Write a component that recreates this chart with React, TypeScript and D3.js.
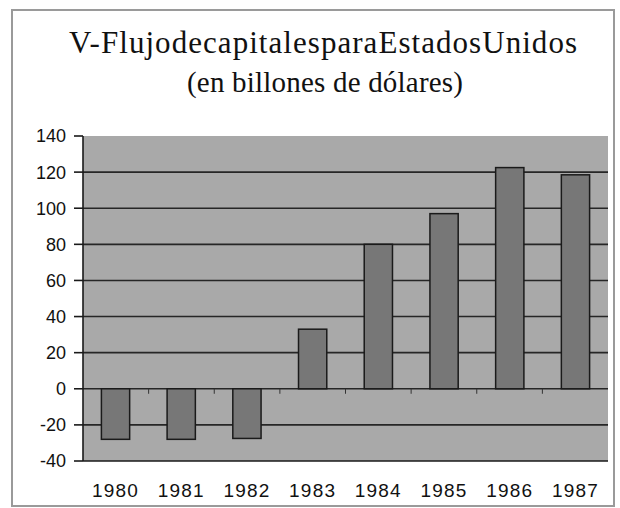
import React from "react";
import * as d3 from "d3";

const years = ["1980", "1981", "1982", "1983", "1984", "1985", "1986", "1987"];
const flows = [-28, -28, -27.5, 33, 80, 97, 122.5, 118.5];
const yTicks = [-40, -20, 0, 20, 40, 60, 80, 100, 120, 140];

const title = "V-FlujodecapitalesparaEstadosUnidos";
const subtitle = "(en billones de dólares)";

const W = 620;
const H = 508;
const plot = { left: 83, right: 608, top: 136, bottom: 461 };
const serif = '"Liberation Serif", "Times New Roman", Times, serif';
const sans = '"Liberation Sans", Arial, Helvetica, sans-serif';

const App = () => {
  const x = d3
    .scaleBand()
    .domain(years)
    .range([plot.left, plot.right])
    .paddingInner(0.57)
    .paddingOuter(0.28);

  const y = d3.scaleLinear().domain([-40, 140]).range([plot.bottom, plot.top]);

  const catW = (plot.right - plot.left) / years.length;
  const bounds = d3.range(1, years.length).map((i) => plot.left + i * catW);

  return (
    <svg
      width={W}
      height={H}
      style={{ position: "absolute", left: 0, top: 0, display: "block", background: "#fff" }}
    >
      {/* frame */}
      <rect x={12} y={10} width={602} height={496} fill="#fff" stroke="#9a9a9a" strokeWidth={2} />

      <text
        x={69}
        y={53}
        textLength={508}
        lengthAdjust="spacing"
        style={{ fontFamily: serif, fontSize: 31 }}
        fill="#111"
      >
        {title}
      </text>
      <text
        x={187}
        y={92}
        textLength={276}
        lengthAdjust="spacing"
        style={{ fontFamily: serif, fontSize: 29 }}
        fill="#111"
      >
        {subtitle}
      </text>

      {/* plot area */}
      <rect x={plot.left} y={plot.top} width={plot.right - plot.left} height={plot.bottom - plot.top} fill="#a9a9a9" />

      {/* gridlines */}
      {yTicks
        .filter((t) => t > -40 && t < 140)
        .map((t) => (
          <line key={t} x1={plot.left} x2={plot.right} y1={y(t)} y2={y(t)} stroke="#262626" strokeWidth={1.6} />
        ))}

      {/* bars */}
      {flows.map((v, i) => (
        <rect
          key={years[i]}
          x={x(years[i])}
          y={y(Math.max(0, v))}
          width={x.bandwidth()}
          height={Math.abs(y(v) - y(0))}
          fill="#777777"
          stroke="#1a1a1a"
          strokeWidth={1.5}
        />
      ))}

      {/* category ticks on zero line */}
      {bounds.map((bx, i) => (
        <line key={i} x1={bx} x2={bx} y1={y(0)} y2={y(0) + 5} stroke="#333" strokeWidth={1} />
      ))}

      {/* axes */}
      <line x1={plot.left} x2={plot.left} y1={plot.top} y2={plot.bottom} stroke="#1a1a1a" strokeWidth={1.6} />
      <line x1={plot.left} x2={plot.right} y1={plot.bottom} y2={plot.bottom} stroke="#1a1a1a" strokeWidth={1.6} />

      {yTicks.map((t) => (
        <g key={t}>
          <line x1={plot.left - 9} x2={plot.left} y1={y(t)} y2={y(t)} stroke="#1a1a1a" strokeWidth={1.6} />
          <text
            x={plot.left - 17}
            y={y(t)}
            dy="0.36em"
            textAnchor="end"
            style={{ fontFamily: sans, fontSize: 18 }}
            fill="#111"
          >
            {t}
          </text>
        </g>
      ))}

      {years.map((yr) => (
        <text
          key={yr}
          x={(x(yr) || 0) + x.bandwidth() / 2}
          y={497}
          textAnchor="middle"
          style={{ fontFamily: sans, fontSize: 19, letterSpacing: 1.2 }}
          fill="#111"
        >
          {yr}
        </text>
      ))}
    </svg>
  );
};

export default App;
